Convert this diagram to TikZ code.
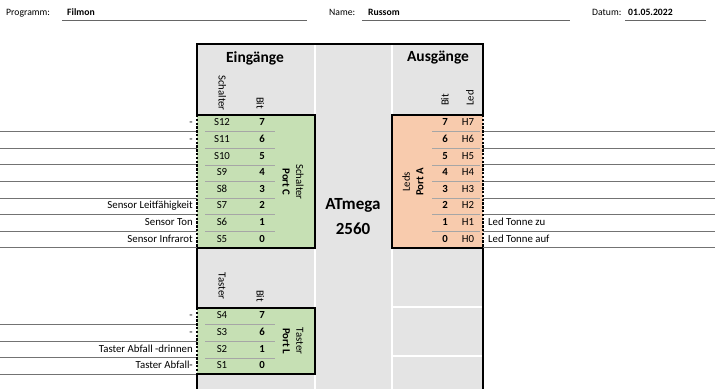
\documentclass[tikz,border=0pt]{standalone}
\usepackage{fontspec}
\setmainfont{Carlito}
\usetikzlibrary{positioning}
\definecolor{cellgrey}{HTML}{E4E4E4}
\definecolor{portgreen}{HTML}{C6E0B4}
\definecolor{portorange}{HTML}{F8CBAD}

\begin{document}
\begin{tikzpicture}[x=1pt, y=-1pt,
  cell/.style={inner sep=0pt, text height=7.4pt, text depth=2.4pt, font=\fontsize{10.8}{12}\selectfont},
  bitcell/.style={cell, font=\fontsize{10.8}{12}\selectfont\bfseries},
  signame/.style={cell, anchor=east},
  ledname/.style={cell, anchor=west},
  colhead/.style={cell, rotate=#1},
  porttag/.style={inner sep=0pt, align=center, rotate=#1, font=\fontsize{10.8}{13.5}\selectfont},
  sechead/.style={font=\fontsize{15.5}{18}\selectfont\bfseries},
  headtxt/.style={inner sep=0pt, anchor=west, text height=7pt, text depth=2pt, font=\fontsize{9.7}{11}\selectfont},
  thickrule/.style={line width=2.6pt},
  dotrule/.style={line width=2.6pt, dash pattern=on 2.4pt off 1.4pt},
  rowrule/.style={black!55, line width=0.8pt},
  innerrule/.style={black!35, line width=0.6pt},
  gridrule/.style={white, line width=1.2pt}
]
  \useasboundingbox (0,0) rectangle (715,389);

  % header line
  \node[headtxt] (prog) at (6,13) {Programm:};
  \node[headtxt, font=\fontsize{9.7}{11}\selectfont\bfseries] (progval) at (67,13) {Filmon};
  \node[headtxt] (name) at (329,13) {Name:};
  \node[headtxt, font=\fontsize{9.7}{11}\selectfont\bfseries] (nameval) at (368,13) {Russom};
  \node[headtxt] (datum) at (592,13) {Datum:};
  \node[headtxt, font=\fontsize{9.7}{11}\selectfont\bfseries] (datumval) at (628,13) {01.05.2022};
  \draw[black!60, line width=0.7pt] (62,20) -- (307,20);
  \draw[black!60, line width=0.7pt] (362,20) -- (570,20);
  \draw[black!60, line width=0.7pt] (625,20) -- (706,20);

  % sheet background
  \fill[cellgrey] (197,44) rectangle (483,389);
  \draw[gridrule] (315,44) -- (315,389);
  \draw[gridrule] (392,44) -- (392,389);
  \draw[gridrule] (392,307) -- (483,307);
  \draw[gridrule] (392,356) -- (483,356);

  \fill[portgreen] (197,115) rectangle (315,248);
  \fill[portorange] (392,115) rectangle (483,248);
  \fill[portgreen] (197,308) rectangle (315,374);

  \node[sechead] (ein) at (255,58) {Eingänge};
  \node[sechead] (aus) at (438,58) {Ausgänge};
  \node[colhead=-90] (hschalter) at (221,93) {Schalter};
  \node[colhead=-90] (hbitc) at (259,103) {Bit};
  \node[colhead=90] (hbita) at (446,100) {Bit};
  \node[colhead=90] (hled) at (471,98) {Led};
  \node[colhead=-90] (htaster) at (221,286) {Taster};
  \node[colhead=-90] (hbitl) at (259,296) {Bit};

  % Port C
  \foreach \s/\b/\t [count=\i from 0] in {S12/7/-, S11/6/-, S10/5/{}, S9/4/{}, S8/3/{},
      S7/2/Sensor Leitfähigkeit, S6/1/Sensor Ton, S5/0/Sensor Infrarot} {
    \pgfmathsetmacro{\ry}{115+16.6*(\i+0.5)}
    \node[cell] (\s) at (222,\ry) {\s};
    \node[bitcell] (c\b) at (262,\ry) {\b};
    \node[signame] (in\s) at (193,\ry) {\t};
    \draw[rowrule] (0,\ry+8.3) -- (197,\ry+8.3);
    \ifnum\i<7 \draw[innerrule] (205,\ry+8.3) -- (275,\ry+8.3); \fi
  }
  \node[porttag=-90] (portc) at (293,182) {Schalter\\\textbf{Port C}};

  % Port A
  \foreach \b/\t [count=\i from 0] in {7/{}, 6/{}, 5/{}, 4/{}, 3/{}, 2/{},
      1/Led Tonne zu, 0/Led Tonne auf} {
    \pgfmathsetmacro{\ry}{115+16.6*(\i+0.5)}
    \node[bitcell] (a\b) at (445,\ry) {\b};
    \node[cell] (H\b) at (468,\ry) {H\b};
    \node[ledname] (outH\b) at (488,\ry) {\t};
    \draw[rowrule] (483,\ry+8.3) -- (715,\ry+8.3);
    \ifnum\i<7 \draw[innerrule] (432,\ry+8.3) -- (480,\ry+8.3); \fi
  }
  \node[porttag=90] (porta) at (413,182) {Leds\\\textbf{Port A}};

  % Port L
  \foreach \s/\b/\t [count=\i from 0] in {S4/7/-, S3/6/-,
      S2/1/Taster Abfall -drinnen, S1/0/Taster Abfall-} {
    \pgfmathsetmacro{\ry}{308+16.6*(\i+0.5)}
    \node[cell] (\s) at (222,\ry) {\s};
    \node[bitcell] (l\b) at (262,\ry) {\b};
    \node[signame] (in\s) at (193,\ry) {\t};
    \draw[rowrule] (0,\ry+8.3) -- (197,\ry+8.3);
    \ifnum\i<3 \draw[innerrule] (205,\ry+8.3) -- (275,\ry+8.3); \fi
  }
  \node[porttag=-90] (portl) at (293,341) {Taster\\\textbf{Port L}};

  \node[font=\fontsize{17}{25}\selectfont\bfseries, align=center] (mcu) at (353,217) {ATmega\\2560};

  % borders
  \draw[thickrule] (197,115) -- (197,44) -- (483,44) -- (483,115);
  \draw[dotrule] (197,115) -- (197,248);
  \draw[thickrule] (197,248) -- (197,308);
  \draw[dotrule] (197,308) -- (197,374);
  \draw[thickrule] (197,374) -- (197,389);
  \draw[dotrule] (483,115) -- (483,248);
  \draw[thickrule] (483,248) -- (483,389);
  \draw[thickrule] (197,115) -- (315,115) -- (315,248) -- (197,248);
  \draw[thickrule] (483,115) -- (392,115) -- (392,248) -- (483,248);
  \draw[thickrule] (197,308) -- (315,308) -- (315,374) -- (197,374);
\end{tikzpicture}
\end{document}
